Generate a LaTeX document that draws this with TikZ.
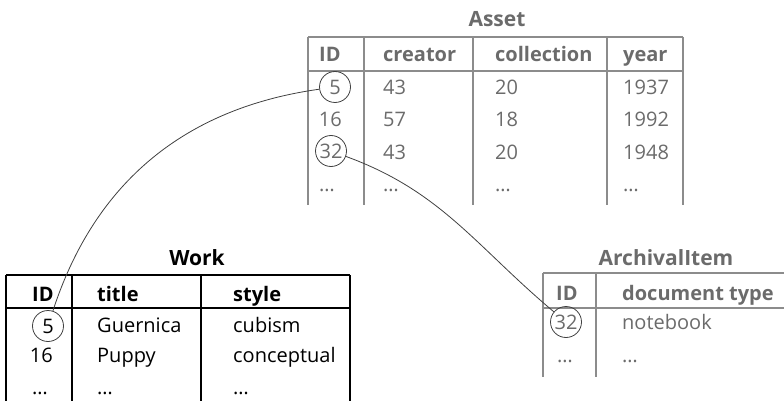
\documentclass[tikz,border=0pt]{standalone}
\usepackage{fontspec}
\setmainfont{Open Sans}
\usetikzlibrary{
    shapes.geometric,
    positioning,
    calc
}

\definecolor{fadedtext}{HTML}{6B6B6B}
\definecolor{fadedrule}{HTML}{8C8C8C}

\begin{document}
\begin{tikzpicture}[
    x=1pt, y=-1pt,
    font=\fontsize{20}{24}\selectfont,
    cell/.style={anchor=base west, inner sep=0pt},
    num/.style={anchor=base east, inner sep=0pt},
    head/.style={cell, font=\fontsize{20}{24}\selectfont\bfseries},
    tabletitle/.style={anchor=base, inner sep=0pt,
                       font=\fontsize{21}{24}\selectfont\bfseries},
    hit/.style={circle, draw=black!75, line width=0.8pt,
                minimum size=31pt, inner sep=0pt},
    rule/.style={line width=1.2pt},
    link/.style={line width=0.8pt, draw=black!75}
]
    \useasboundingbox (0,0) rectangle (784,401);

    % Asset table
    \begin{scope}[text=fadedtext, draw=fadedrule]
        \node (asset) [tabletitle] at (497,27) {Asset};
        \draw [rule] (308,37) -- (683,37);
        \draw [rule] (308,71) -- (683,71);
        \draw [rule] (308,37) -- (308,205);
        \draw [rule] (364,37) -- (364,205);
        \draw [rule] (473,37) -- (473,205);
        \draw [rule] (607,37) -- (607,205);
        \draw [rule] (683,37) -- (683,205);

        \node (aid)   [head] at (319,62) {ID};
        \node (acre)  [head] at (383,62) {creator};
        \node (acoll) [head] at (495,62) {collection};
        \node (ayear) [head] at (623,62) {year};

        \node (a5)  [hit] at (335,87) {5};
        \node (a16) [num] at (342,127) {16};
        \node (a32) [hit] at (331,151) {32};
        \node (adots) [cell] at (319,191) {…};

        \node (acre1) [cell] at (383,95) {43};
        \node (acre2) [cell] at (383,127) {57};
        \node (acre3) [cell] at (383,159) {43};
        \node (acre4) [cell] at (383,191) {…};

        \node (acoll1) [cell] at (495,95) {20};
        \node (acoll2) [cell] at (495,127) {18};
        \node (acoll3) [cell] at (495,159) {20};
        \node (acoll4) [cell] at (495,191) {…};

        \node (ayear1) [cell] at (623,95) {1937};
        \node (ayear2) [cell] at (623,127) {1992};
        \node (ayear3) [cell] at (623,159) {1948};
        \node (ayear4) [cell] at (623,191) {…};
    \end{scope}

    % Work table
    \node (work) [tabletitle] at (197,265) {Work};
    \draw [rule] (6,275) -- (350,275);
    \draw [rule] (6,308) -- (350,308);
    \draw [rule] (6,275) -- (6,401);
    \draw [rule] (72,275) -- (72,401);
    \draw [rule] (201,275) -- (201,401);
    \draw [rule] (350,275) -- (350,401);

    \node (wid)    [head] at (32,301) {ID};
    \node (wtitle) [head] at (97,301) {title};
    \node (wstyle) [head] at (233,301) {style};

    \node (w5)    [hit] at (48,326) {5};
    \node (w16)   [num] at (53,362) {16};
    \node (wdots) [cell] at (32,394) {…};

    \node (wtitle1) [cell] at (97,332) {Guernica};
    \node (wtitle2) [cell] at (97,362) {Puppy};
    \node (wtitle3) [cell] at (97,394) {…};

    \node (wstyle1) [cell] at (233,332) {cubism};
    \node (wstyle2) [cell] at (233,362) {conceptual};
    \node (wstyle3) [cell] at (233,394) {…};

    % ArchivalItem table
    \begin{scope}[text=fadedtext, draw=fadedrule]
        \node (arch) [tabletitle] at (666,265) {ArchivalItem};
        \draw [rule] (543,273) -- (784,273);
        \draw [rule] (543,308) -- (784,308);
        \draw [rule] (543,273) -- (543,377);
        \draw [rule] (596,273) -- (596,377);

        \node (rid)  [head] at (556,300) {ID};
        \node (rdoc) [head] at (622,300) {document type};

        \node (r32)   [hit] at (566,322) {32};
        \node (rdots) [cell] at (557,362) {…};
        \node (rdoc1) [cell] at (622,329) {notebook};
        \node (rdoc2) [cell] at (622,362) {…};
    \end{scope}

    % Links between matching IDs
    \draw [link] (a5) to[out=188, in=72] (w5);
    \draw [link] (a32) to[out=-20, in=140] (r32);

\end{tikzpicture}
\end{document}
